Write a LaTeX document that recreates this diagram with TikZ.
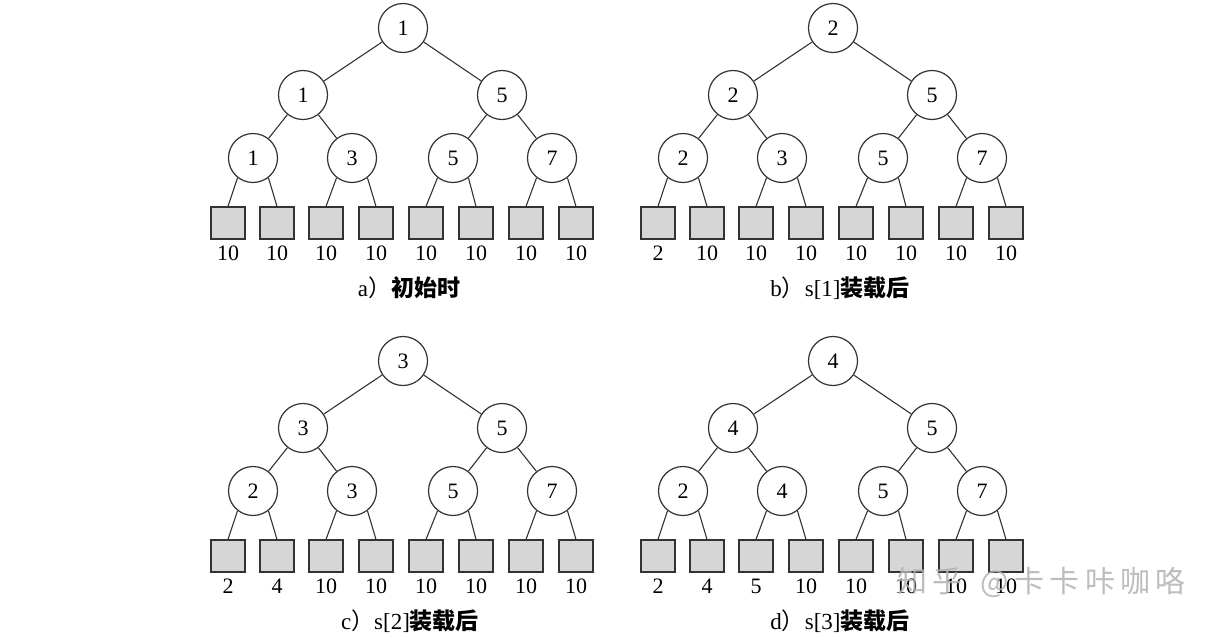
\documentclass[tikz,border=0pt]{standalone}
\usepackage{fontspec}
\setmainfont{Liberation Serif}
\newfontfamily\cjk{Noto Sans CJK SC}
\newfontfamily\wmfont{Noto Sans CJK SC}[LetterSpace=18]
\tikzset{
  cnode/.style={circle,draw=black!80,line width=1.2pt,fill=white,minimum size=49pt,inner sep=0pt,font=\fontsize{22}{24}\selectfont},
  leafbox/.style={rectangle,draw=black!80,line width=1.2pt,fill=black!16,minimum width=34pt,minimum height=32pt,inner sep=0pt},
  lab/.style={font=\fontsize{22}{24}\selectfont,inner sep=0pt},
  captext/.style={font=\fontsize{23}{26}\selectfont,inner sep=0pt},
  conn/.style={draw=black!80,line width=1.1pt},
  wmark/.style={font=\wmfont\fontsize{30}{34}\selectfont,text=black!30,opacity=0.85,inner sep=0pt}
}
\newcommand\treeinner[8]{%
  \node[cnode] (#1r) at (403,28) {#2};
  \node[cnode] (#1a) at (303,95) {#3};
  \node[cnode] (#1b) at (502,95) {#4};
  \node[cnode] (#1c) at (253,158) {#5};
  \node[cnode] (#1d) at (352,158) {#6};
  \node[cnode] (#1e) at (453,158) {#7};
  \node[cnode] (#1f) at (552,158) {#8};
  \path[conn] (#1r) -- (#1a);
  \path[conn] (#1r) -- (#1b);
  \path[conn] (#1a) -- (#1c);
  \path[conn] (#1a) -- (#1d);
  \path[conn] (#1b) -- (#1e);
  \path[conn] (#1b) -- (#1f);
}
\newcommand\treeleaves[9]{%
  \node[leafbox] (#1l1) at (228,223) {};
  \node[leafbox] (#1l2) at (277,223) {};
  \node[leafbox] (#1l3) at (326,223) {};
  \node[leafbox] (#1l4) at (376,223) {};
  \node[leafbox] (#1l5) at (426,223) {};
  \node[leafbox] (#1l6) at (476,223) {};
  \node[leafbox] (#1l7) at (526,223) {};
  \node[leafbox] (#1l8) at (576,223) {};
  \path[conn] (#1c.232) -- (#1l1.north);
  \path[conn] (#1c.308) -- (#1l2.north);
  \path[conn] (#1d.232) -- (#1l3.north);
  \path[conn] (#1d.308) -- (#1l4.north);
  \path[conn] (#1e.232) -- (#1l5.north);
  \path[conn] (#1e.308) -- (#1l6.north);
  \path[conn] (#1f.232) -- (#1l7.north);
  \path[conn] (#1f.308) -- (#1l8.north);
  \node[lab] (#1t1) at (228,253) {#2};
  \node[lab] (#1t2) at (277,253) {#3};
  \node[lab] (#1t3) at (326,253) {#4};
  \node[lab] (#1t4) at (376,253) {#5};
  \node[lab] (#1t5) at (426,253) {#6};
  \node[lab] (#1t6) at (476,253) {#7};
  \node[lab] (#1t7) at (526,253) {#8};
  \node[lab] (#1t8) at (576,253) {#9};
}
\begin{document}
\begin{tikzpicture}[x=1pt,y=-1pt]
\useasboundingbox[fill=white] (0,0) rectangle (1226,637);
% a
\treeinner{A}{1}{1}{5}{1}{3}{5}{7}
\treeleaves{A}{10}{10}{10}{10}{10}{10}{10}{10}
\node[captext] (Acap) at (409,288) {a{\cjk ）}{\cjk\bfseries 初始时}};
% b
\begin{scope}[shift={(430,0)}]
\treeinner{B}{2}{2}{5}{2}{3}{5}{7}
\treeleaves{B}{2}{10}{10}{10}{10}{10}{10}{10}
\node[captext] (Bcap) at (410,288) {b{\cjk ）}s[1]{\cjk\bfseries 装载后}};
\end{scope}
% c
\begin{scope}[shift={(0,333)}]
\treeinner{C}{3}{3}{5}{2}{3}{5}{7}
\treeleaves{C}{2}{4}{10}{10}{10}{10}{10}{10}
\node[captext] (Ccap) at (410,288) {c{\cjk ）}s[2]{\cjk\bfseries 装载后}};
\end{scope}
% d
\begin{scope}[shift={(430,333)}]
\treeinner{D}{4}{4}{5}{2}{4}{5}{7}
\treeleaves{D}{2}{4}{5}{10}{10}{10}{10}{10}
\node[captext] (Dcap) at (410,288) {d{\cjk ）}s[3]{\cjk\bfseries 装载后}};
\end{scope}
\node[wmark,anchor=west] (wm) at (897,582) {知乎\hspace{18pt}@卡卡咔咖咯};
\end{tikzpicture}
\end{document}
